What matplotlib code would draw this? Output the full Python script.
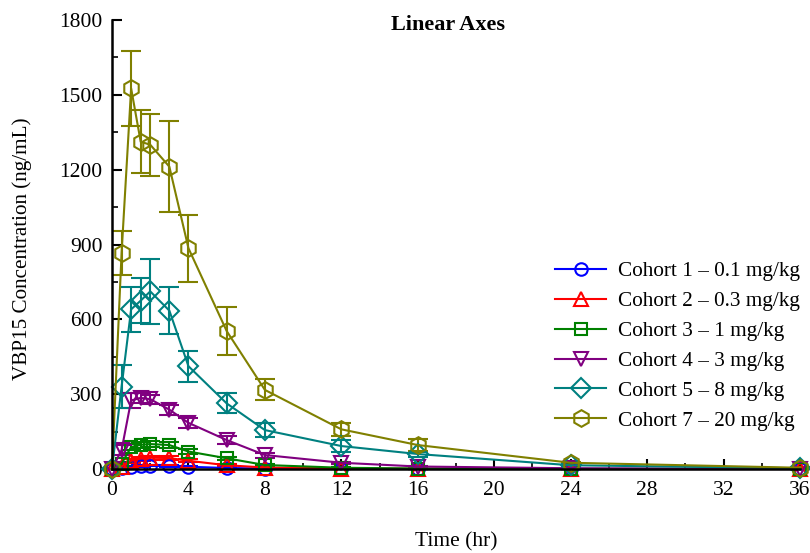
import numpy as np
import matplotlib.pyplot as plt
from matplotlib.ticker import MultipleLocator

# Sampling times (hr)
times = [0, 0.5, 1, 1.5, 2, 3, 4, 6, 8, 12, 16, 24, 36]

# Mean concentrations (ng/mL) per cohort
c1_mean = [0, 3, 10, 13, 14, 12, 9, 4, 2, 1, 0, 0, 0]
c2_mean = [0, 10, 33, 42, 45, 44, 33, 15, 6, 2, 1, 0, 0]
c3_mean = [0, 22, 88, 97, 100, 96, 70, 43, 16, 5, 2, 1, 0]
c4_mean = [0, 76, 275, 285, 280, 238, 185, 116, 56, 25, 10, 3, 0]
c5_mean = [0, 330, 640, 675, 712, 635, 412, 263, 156, 92, 60, 15, 3]
c7_mean = [0, 866, 1526, 1312, 1300, 1212, 885, 553, 317, 159, 96, 25, 5]

# Standard deviations (ng/mL)
c1_sd = [0, 1, 3, 3, 3, 3, 2, 1, 1, 0, 0, 0, 0]
c2_sd = [0, 3, 8, 8, 8, 8, 6, 4, 2, 1, 0, 0, 0]
c3_sd = [0, 8, 12, 12, 12, 12, 10, 6, 4, 2, 1, 0, 0]
c4_sd = [0, 20, 30, 20, 18, 20, 20, 15, 10, 5, 3, 1, 0]
c5_sd = [0, 87, 89, 89, 130, 94, 62, 40, 27, 25, 10, 3, 1]
c7_sd = [0, 88, 150, 127, 125, 182, 135, 95, 42, 27, 23, 5, 2]

labels = ["Cohort 1 \u2013 0.1 mg/kg", "Cohort 2 \u2013 0.3 mg/kg",
          "Cohort 3 \u2013 1 mg/kg", "Cohort 4 \u2013 3 mg/kg",
          "Cohort 5 \u2013 8 mg/kg", "Cohort 7 \u2013 20 mg/kg"]
means = [c1_mean, c2_mean, c3_mean, c4_mean, c5_mean, c7_mean]
sds = [c1_sd, c2_sd, c3_sd, c4_sd, c5_sd, c7_sd]
colors = ["#0000ff", "#ff0000", "#008000", "#800080", "#008080", "#808000"]
markers = ["o", "^", "s", "v", "D", "h"]
msizes = [9, 10, 9, 10, 10, 12]

plt.rcParams["font.family"] = ["Liberation Serif", "DejaVu Serif"]

fig = plt.figure(figsize=(8.1, 5.53), dpi=100)
ax = fig.add_axes([0.1383, 0.1519, 0.8494, 0.8119])

handles = []
for m, s, c, mk, ms, lab in zip(means, sds, colors, markers, msizes, labels):
    eb = ax.errorbar(times, m, yerr=s, color=c, marker=mk, ms=ms, mfc="none",
                     mec=c, mew=1.5, lw=1.5, elinewidth=1.5, capsize=7,
                     capthick=1.5, label=lab, clip_on=False)
    for art in eb.lines[1] + eb.lines[2]:
        art.set_clip_on(False)
    handles.append(eb.lines[0])

ax.set_xlim(0, 36)
ax.set_ylim(0, 1800)
ax.xaxis.set_major_locator(MultipleLocator(4))
ax.xaxis.set_minor_locator(MultipleLocator(2))
ax.yaxis.set_major_locator(MultipleLocator(300))
ax.yaxis.set_minor_locator(MultipleLocator(150))

ax.spines["top"].set_visible(False)
ax.spines["right"].set_visible(False)
ax.spines["left"].set_linewidth(1.8)
ax.spines["bottom"].set_linewidth(1.8)
ax.tick_params(which="major", direction="in", length=7, width=1.5,
               labelsize=15.5)
ax.tick_params(axis="x", which="major", pad=9)
ax.tick_params(axis="y", which="major", pad=7)
ax.tick_params(which="minor", direction="in", length=4, width=1.2)

ax.set_xlabel("Time (hr)", fontsize=15.5)
ax.xaxis.set_label_coords(0.5, -0.14)
ax.set_ylabel("VBP15 Concentration (ng/mL)", fontsize=15.2)
ax.yaxis.set_label_coords(-0.116, 0.49)
ax.set_title("Linear Axes", fontsize=16, fontweight="bold", x=0.488, y=0.96)

ax.legend(handles, labels, loc="upper left", bbox_to_anchor=(0.644, 0.462),
          frameon=False, fontsize=15.3, handlelength=2.4, labelspacing=0.47,
          handletextpad=0.58, borderaxespad=0, borderpad=0)

fig.savefig("out.png", dpi=100)
